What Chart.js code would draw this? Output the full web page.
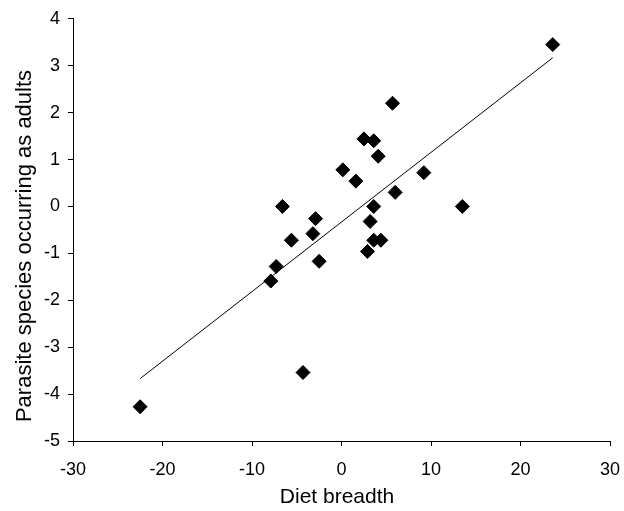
<!DOCTYPE html>
<html>
<head>
    <title>Diet breadth vs parasite species</title>
    <script src="https://cdn.jsdelivr.net/npm/chart.js"></script>
    <style>
        body {
            margin: 0;
            background-color: #ffffff;
        }
        #chart {
            display: block;
        }
    </style>
</head>
<body>
    <canvas id="chart" width="624" height="511"></canvas>

    <script>
        // residuals
        const dietBreadth = [23.6, 5.7, 2.5, 3.6, 4.1, 0.15, 1.6, 9.2, 6.0, 3.6, -6.6, 13.5,
                             -2.9, 3.2, -3.2, -5.6, 3.6, 4.4, 2.9, -2.5, -7.3, -7.9, -4.3, -22.5];
        const parasiteAdults = [3.45, 2.2, 1.44, 1.4, 1.07, 0.78, 0.54, 0.72, 0.3, 0.0, 0.0, 0.0,
                                -0.26, -0.32, -0.58, -0.72, -0.72, -0.72, -0.96, -1.17, -1.28, -1.59, -3.54, -4.27];

        // fitted regression line, end points
        const trendX = [-22.5, 23.6];
        const trendY = [-3.67, 3.17];

        const xTitle = 'Diet breadth';
        const yTitle = 'Parasite species occurring as adults';

        const points = dietBreadth.map((x, i) => ({ x: x, y: parasiteAdults[i] }));
        const trend = trendX.map((x, i) => ({ x: x, y: trendY[i] }));

        const fontFamily = '"Liberation Sans", Arial, sans-serif';
        Chart.defaults.font.family = fontFamily;
        Chart.defaults.color = '#000';

        // axis titles are not centred on the axes in the original, so draw them by hand
        const axisTitlePlugin = {
            id: 'axisTitles',
            afterDraw(chart) {
                const c = chart.ctx;
                c.save();
                c.fillStyle = '#000';
                c.textAlign = 'center';
                c.textBaseline = 'middle';

                c.font = '21px ' + fontFamily;
                c.fillText(xTitle, 337, 497);

                c.translate(25, 246);
                c.rotate(-Math.PI / 2);
                c.font = '22px ' + fontFamily;
                c.fillText(yTitle, 0, 0);
                c.restore();
            }
        };

        const ctx = document.getElementById('chart').getContext('2d');
        new Chart(ctx, {
            type: 'scatter',
            data: {
                datasets: [{
                    label: 'data',
                    data: points,
                    pointStyle: 'rectRot',
                    pointRadius: 7,
                    backgroundColor: '#000',
                    borderColor: '#000',
                    borderWidth: 1,
                    order: 1
                }, {
                    label: 'trend',
                    data: trend,
                    showLine: true,
                    pointRadius: 0,
                    borderColor: '#000',
                    borderWidth: 1,
                    order: 2
                }]
            },
            options: {
                responsive: false,
                animation: false,
                layout: {
                    padding: { top: 16, right: 0, left: 0, bottom: 0 }
                },
                plugins: {
                    legend: { display: false },
                    tooltip: { enabled: false }
                },
                scales: {
                    x: {
                        type: 'linear',
                        min: -30,
                        max: 30,
                        ticks: {
                            stepSize: 10,
                            padding: 13,
                            font: { size: 18 }
                        },
                        grid: {
                            drawOnChartArea: false,
                            drawTicks: true,
                            tickLength: 5,
                            color: '#000'
                        },
                        border: { display: true, color: '#000', width: 1 },
                        afterFit: function (scale) {
                            scale.height = 70;
                            scale.paddingRight = 14;
                        }
                    },
                    y: {
                        type: 'linear',
                        min: -5,
                        max: 4,
                        ticks: {
                            stepSize: 1,
                            padding: 8,
                            font: { size: 18 }
                        },
                        grid: {
                            drawOnChartArea: false,
                            drawTicks: true,
                            tickLength: 5,
                            color: '#000'
                        },
                        border: { display: true, color: '#000', width: 1 },
                        afterFit: function (scale) { scale.width = 73; }
                    }
                }
            },
            plugins: [axisTitlePlugin]
        });
    </script>
</body>
</html>
